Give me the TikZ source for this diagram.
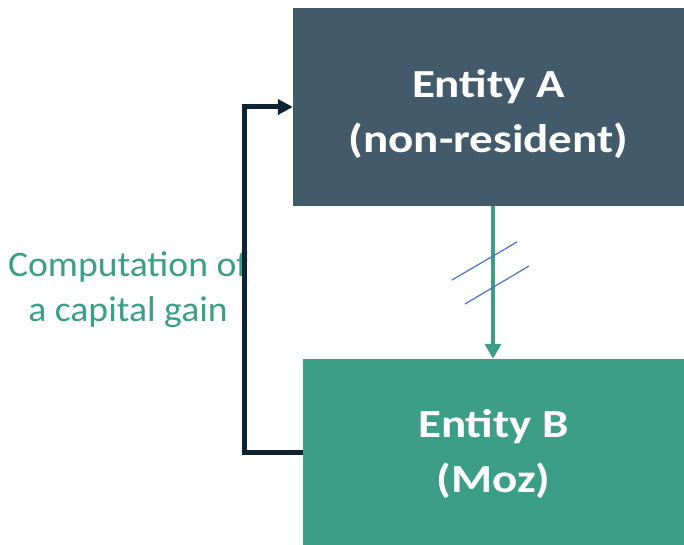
\documentclass[tikz,border=0pt]{standalone}
\usepackage{fontspec}
\setmainfont{Carlito}
\newfontfamily\entfont[FakeStretch=1.18]{Carlito}
\newfontfamily\lblfont[FakeStretch=1.05]{Carlito}
\usetikzlibrary{arrows.meta}
\definecolor{slateA}{HTML}{435A6B}
\definecolor{tealB}{HTML}{3D9E88}
\definecolor{navyL}{HTML}{0E2435}
\definecolor{blueS}{HTML}{4472C4}
\tikzset{
  entbox/.style={draw=none, inner sep=0pt, align=center, text=white,
    font=\entfont\fontsize{40}{56}\selectfont\bfseries},
  lbl/.style={inner sep=0pt, align=center, text=tealB,
    font=\lblfont\fontsize{36}{45}\selectfont},
}
\newcommand{\hstrut}[1]{\rule{0pt}{#1}}
\newcommand{\dstrut}{\rule[-15bp]{0pt}{15bp}}
\begin{document}
\begin{tikzpicture}[x=1bp,y=-1bp]
\useasboundingbox (0,0) rectangle (684,545);
\node[entbox, fill=slateA, minimum width=391bp, minimum height=198bp] (A) at (488.5,107) {\hstrut{51bp}Entity A\\(non-resident)\dstrut};
\node[entbox, fill=tealB, minimum width=381bp, minimum height=186bp] (B) at (493.5,452) {\hstrut{41bp}Entity B\\(Moz)\dstrut};
\node[lbl] (C) at (128,290) {Computation of\\a capital gain};
\draw[tealB, line width=4bp, -{Triangle[length=15bp,width=16bp]}] (A.south -| 493,0) -- (B.north -| 493,0);
\draw[blueS, line width=1.2bp] (452,280) -- (517,242);
\draw[blueS, line width=1.2bp] (465,304) -- (529,266);
\draw[navyL, line width=5bp, line join=miter, -{Triangle[length=15bp,width=15bp]}] (B.west) -- ++(-58,0) |- (A.west);
\end{tikzpicture}
\end{document}
